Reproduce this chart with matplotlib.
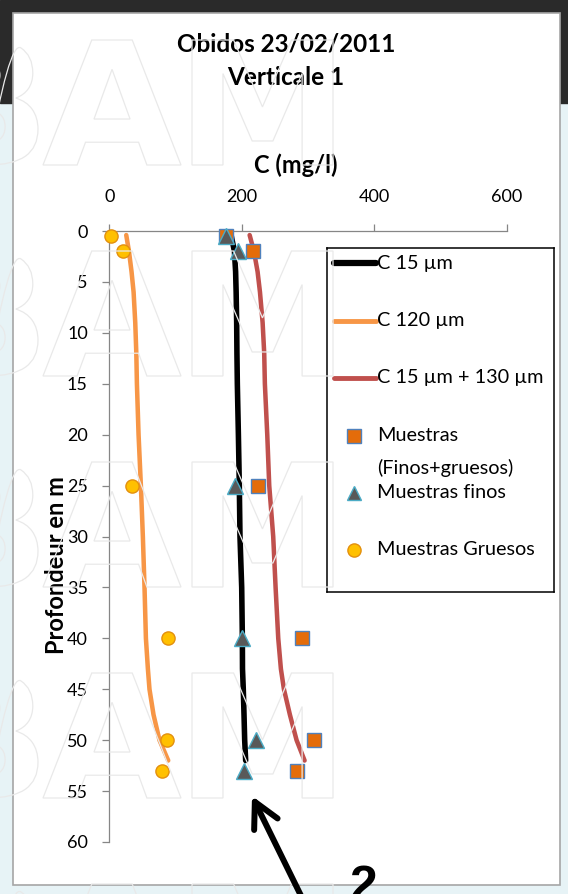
import numpy as np
import matplotlib
matplotlib.use('agg')
import matplotlib.pyplot as plt
from matplotlib.patches import Rectangle, PathPatch
from matplotlib.textpath import TextPath
from matplotlib.font_manager import FontProperties
from matplotlib.transforms import Affine2D

plt.rcParams['font.family'] = ['Lato', 'DejaVu Sans']

# measured samples: depth (m) and concentration (mg/l)
depth_muestras = [0.5, 2, 25, 40, 50, 53]
c_total = [177, 217, 224, 291, 309, 283]      # finos + gruesos
c_finos = [176, 194, 190, 201, 222, 203]
c_gruesos = [3, 20, 34, 89, 87, 80]

# computed profiles
depth_model = [0.4, 2, 4, 6, 9, 12, 15, 20, 25, 30, 35, 40, 43, 45, 47.5, 50, 52]
c15 = [184, 189, 190.8, 191.6, 192.4, 192.8, 193.4, 195, 196.4, 197.4, 200, 201,
       201.2, 202.4, 203.5, 204.5, 206]
c120 = [25.6, 29.7, 33.6, 36.7, 39.2, 40.8, 41.7, 44.2, 47.7, 50.7, 53.2, 55.3,
        58.3, 60.7, 66.8, 75.8, 89]
c15_130 = [212, 218.5, 224, 227.6, 231.6, 234, 235, 238.6, 241.6, 247.6, 251.2,
           255.2, 259.2, 263.8, 272.8, 282.9, 295]

x_ticks = [0, 200, 400, 600]
y_ticks = list(range(0, 61, 5))

W, H = 568, 894
fig = plt.figure(figsize=(W / 100, H / 100), dpi=100)

# slide background + white chart panel
bg = fig.add_axes([0, 0, 1, 1], zorder=0)
bg.set_xlim(0, W)
bg.set_ylim(H, 0)
bg.axis('off')
bg.add_patch(Rectangle((0, 0), W, H, color='#e7f3f6'))
bg.add_patch(Rectangle((0, 0), W, 103, color='#2a2a2a'))
bg.add_patch(Rectangle((13, 13), 547, 872, facecolor='white', edgecolor='#a6a6a6', lw=1.2))

ax = fig.add_axes([109.3 / W, 1 - 842 / H, 397.2 / W, 611 / H], zorder=1)
ax.patch.set_alpha(0)

ax.plot(c120, depth_model, color='#f79646', lw=3.25, solid_capstyle='round', clip_on=False, zorder=2)
ax.plot(c15_130, depth_model, color='#c0504d', lw=3.25, solid_capstyle='round', clip_on=False, zorder=2)
ax.plot(c15, depth_model, color='black', lw=4, solid_capstyle='round', clip_on=False, zorder=2)

ax.plot(c_total, depth_muestras, 's', ls='none', ms=10.5, mfc='#e46c0a', mec='#4f81bd',
        mew=1, clip_on=False, zorder=3)
ax.plot(c_finos, depth_muestras, '^', ls='none', ms=12, mfc='#595959', mec='#4bacc6',
        mew=1, clip_on=False, zorder=3)
ax.plot(c_gruesos, depth_muestras, 'o', ls='none', ms=9.5, mfc='#ffc000', mec='#e3900f',
        mew=1, clip_on=False, zorder=3)

ax.set_xlim(0, 600)
ax.set_ylim(60, 0)
ax.set_xticks(x_ticks)
ax.set_yticks(y_ticks)
ax.xaxis.tick_top()
for side in ['right', 'bottom']:
    ax.spines[side].set_visible(False)
for side in ['top', 'left']:
    ax.spines[side].set_color('#868686')
    ax.spines[side].set_linewidth(0.9)
ax.tick_params(axis='x', length=5, width=0.9, color='#868686', pad=14, labelsize=13)
ax.tick_params(axis='y', length=5, width=0.9, color='#868686', pad=10.5, labelsize=13)

ax.set_xlabel('C (mg/l)', fontsize=17, fontweight='bold')
ax.xaxis.set_label_position('top')
ax.xaxis.set_label_coords(0.47, 1.108)
ax.xaxis.label.set_va('center')
ax.set_ylabel('Profondeur en m', fontsize=17, fontweight='bold')
ax.yaxis.set_label_coords(-0.105, 0.453)

fig.text(286 / W, 1 - 61 / H, 'Obidos 23/02/2011\nVerticale 1', ha='center', va='center',
         fontsize=17.5, fontweight='bold', linespacing=1.55)

# legend box, laid out by hand like the Excel one
lg = fig.add_axes([326.7 / W, 1 - 591.7 / H, 227.6 / W, 343.4 / H], zorder=2)
lg.set_xlim(0, 227.6)
lg.set_ylim(343.4, 0)
lg.set_xticks([])
lg.set_yticks([])
for sp in lg.spines.values():
    sp.set_color('black')
    sp.set_linewidth(1.1)

line_keys = [('C 15 µm', 'black', 4.5, 15),
             ('C 120 µm', '#f79646', 3.5, 72.5),
             ('C 15 µm + 130 µm', '#c0504d', 3.5, 129.5)]
for label, col, lw, y in line_keys:
    lg.plot([7.6, 49.3], [y, y], color=col, lw=lw, solid_capstyle='round')
    lg.text(50.3, y, label, ha='left', va='center', fontsize=14.3)

marker_keys = [('Muestras\n(Finos+gruesos)', 's', '#e46c0a', '#4f81bd', 9.4, 187.4),
               ('Muestras finos', '^', '#595959', '#4bacc6', 9.5, 244.7),
               ('Muestras Gruesos', 'o', '#ffc000', '#e3900f', 9.5, 301.7)]
for label, mk, fc, ec, ms, y in marker_keys:
    lg.plot([27.6], [y], mk, ms=ms, mfc=fc, mec=ec, mew=1)
    lg.text(50.3, y - 9, label, ha='left', va='top', fontsize=14.3, linespacing=2.0)

# overlay: watermark, arrow and label
ov = fig.add_axes([0, 0, 1, 1], zorder=5)
ov.set_xlim(0, W)
ov.set_ylim(H, 0)
ov.axis('off')

wm_font = FontProperties(family='DejaVu Sans', weight='bold')


def outline_letter(axo, ch, x0, x1, top, height):
    tp = TextPath((0, 0), ch, size=100, prop=wm_font)
    ext = tp.get_extents()
    tr = (Affine2D().translate(-ext.x0, -ext.y1)
          .scale((x1 - x0) / ext.width, -height / ext.height)
          .translate(x0, top))
    axo.add_patch(PathPatch(tr.transform_path(tp), fc='none', ec='#e9e9e9', lw=0.9))


for top in [40, 251, 462, 673, 884]:
    for ch, x0, x1 in [('B', -67, 38), ('A', 43, 181), ('M', 192, 333)]:
        outline_letter(ov, ch, x0, x1, top, 125)

ov.annotate('', xy=(252, 796), xytext=(308, 910),
            arrowprops=dict(arrowstyle='->,head_length=0.9,head_width=0.47', lw=4.3,
                            color='black', mutation_scale=20, shrinkA=0, shrinkB=0))
ov.text(363, 865, '2', fontsize=36, fontweight='bold', family='Liberation Sans',
        ha='center', va='top', color='black')

fig.savefig('out.png', dpi=100)
